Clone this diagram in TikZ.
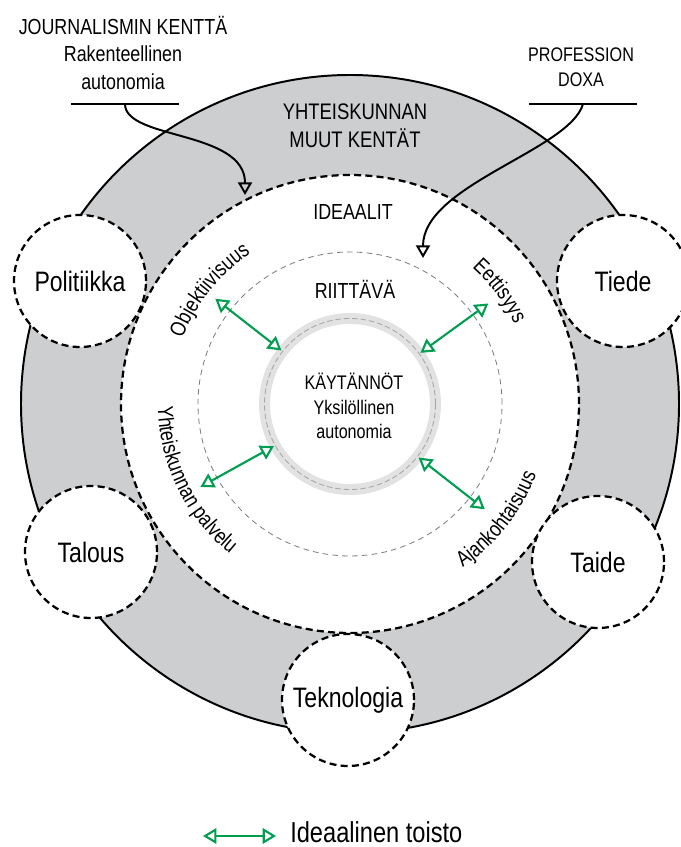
\documentclass[tikz,border=0pt]{standalone}
\usepackage{fontspec}
\setmainfont{Liberation Sans}[FakeStretch=0.82]
\usepackage{xcolor}
\usetikzlibrary{arrows.meta,positioning,calc,decorations.text}
\definecolor{ringgray}{RGB}{205,206,208}
\definecolor{coregray}{RGB}{226,226,226}
\definecolor{toistogreen}{RGB}{0,158,80}
\newcommand{\ringtextfont}{\fontsize{15.5}{18}\selectfont}

\begin{document}
\begin{tikzpicture}[x=0.25mm, y=0.25mm]
        % Define styles
        \tikzstyle{field} = [circle, draw, fill=white, line width=1.6pt, dash pattern=on 5pt off 3pt, minimum size=33mm, inner sep=0pt, font=\fontsize{20}{24}\selectfont]
        \tikzstyle{ringlabel} = [align=center, font=\fontsize{16}{20}\selectfont]
        \tikzstyle{toplabel} = [align=center, font=\fontsize{15.5}{19.5}\selectfont]
        \tikzstyle{pointer} = [line width=1.4pt, -{Triangle[open, length=9pt, width=10pt]}]
        \tikzstyle{toisto} = [toistogreen, line width=1.5pt, {Triangle[open, length=9.5pt, width=11pt]}-{Triangle[open, length=9.5pt, width=11pt]}]
        \tikzstyle{bar} = [line width=1.6pt]

        \useasboundingbox (0,0) rectangle (680,847);
        \coordinate (C) at (350,443);

        % Rings
        \fill[ringgray, even odd rule] (C) circle (329) (C) circle (229);
        \draw[line width=1.4pt] (C) circle (329);
        \draw[line width=1.6pt, dash pattern=on 5pt off 3pt] (C) circle (229);
        \draw[gray, line width=0.6pt, dash pattern=on 4pt off 3pt] (C) circle (152);
        \draw[coregray, line width=7.8pt] (C) circle (85.5);
        \draw[gray!70, line width=0.6pt, dash pattern=on 4pt off 2pt] (C) circle (85.5);

        % Other fields
        \node[field] (pol) at (80,566) {Politiikka};
        \node[field] (tie) at (623,566) {Tiede};
        \node[field] (tal) at (91,295) {Talous};
        \node[field] (tai) at (598,285) {Taide};
        \node[field] (tek) at (348,147) {Teknologia};

        % Texts
        \node[ringlabel] (muut) at (355,721) {YHTEISKUNNAN\\MUUT KENTÄT};
        \node[ringlabel, font=\fontsize{15.5}{19}\selectfont] (ideaalit) at (353,635) {IDEAALIT};
        \node[ringlabel, font=\fontsize{15.5}{19}\selectfont] (riittava) at (355,558) {RIITTÄVÄ};
        \node[align=center, font=\fontsize{14}{17.6}\selectfont] (kaytannot) at (354,441) {KÄYTÄNNÖT\\Yksilöllinen\\autonomia};
        \node[toplabel] (journ) at (123,794) {JOURNALISMIN KENTTÄ\\Rakenteellinen\\autonomia};
        \node[toplabel, font=\fontsize{14}{18}\selectfont] (doxa) at (581,780) {PROFESSION\\DOXA};

        % Curved texts
        \path[decorate, decoration={text along path, text={|\ringtextfont|Objektiivisuus}, text align=center}]
            ($(C)+(161:180)$) arc[start angle=161, end angle=121, radius=180];
        \path[decorate, decoration={text along path, text={|\ringtextfont|Eettisyys}, text align=center}]
            ($(C)+(57:183)$) arc[start angle=57, end angle=17, radius=183];
        \path[decorate, decoration={text along path, text={|\ringtextfont|Yhteiskunnan palvelu}, text align=center}]
            ($(C)+(176:192)$) arc[start angle=176, end angle=236, radius=192];
        \path[decorate, decoration={text along path, text={|\ringtextfont|Ajankohtaisuus}, text align=center}]
            ($(C)+(-68:199)$) arc[start angle=-68, end angle=-8, radius=199];

        % Pointers from the labels
        \coordinate (jbar-w) at (71,743);
        \coordinate (jbar-e) at (179,743);
        \coordinate (dbar-w) at (529,743);
        \coordinate (dbar-e) at (637,743);
        \coordinate (jtip) at (245,652);
        \coordinate (dtip) at (423,589);
        \draw[bar] (jbar-w) -- (jbar-e);
        \draw[bar] (dbar-w) -- (dbar-e);
        \draw[pointer] ($(jbar-w)!0.5!(jbar-e)$) .. controls (125,707) and (245,717) .. (jtip);
        \draw[pointer] ($(dbar-w)!0.5!(dbar-e)$) .. controls (570,697) and (423,662) .. (dtip);

        % Ideal repetition
        \foreach \name/\ang in {obj/142, eet/36, yht/209, ajk/-38} {
            \coordinate (\name-in) at ($(C)+(\ang:87)$);
            \coordinate (\name-out) at ($(C)+(\ang:171)$);
        }
        \draw[toisto] (obj-out) -- (obj-in);
        \draw[toisto] (eet-out) -- (eet-in);
        \draw[toisto] (yht-out) -- (yht-in);
        \draw[toisto] (ajk-out) -- (ajk-in);

        % Legend
        \coordinate (leg-w) at (203,11);
        \coordinate (leg-e) at (276,11);
        \draw[toisto] (leg-w) -- (leg-e);
        \node[anchor=base west, inner sep=0pt, font=\fontsize{20.5}{24}\selectfont] (legend) at (290,4) {Ideaalinen toisto};
\end{tikzpicture}
\end{document}
